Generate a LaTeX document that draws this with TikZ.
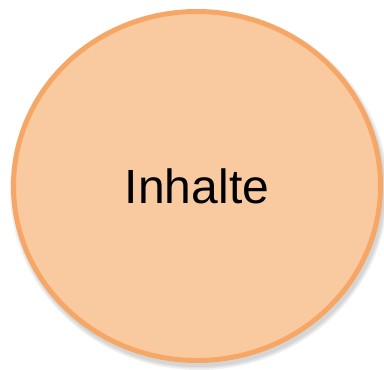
\documentclass[tikz,border=0pt]{standalone}
\usepackage{fontspec}
\setmainfont{Liberation Sans}
\definecolor{fillor}{HTML}{F9CA9F}
\definecolor{lineor}{HTML}{F6A766}
\tikzset{
  bubble/.style={ellipse, draw=lineor, line width=5pt, fill=fillor,
    minimum width=367pt, minimum height=349pt, inner sep=0pt,
    font=\fontsize{48}{56}\selectfont},
  shade1/.style={fill=black, opacity=0.06}
}
\usetikzlibrary{shapes.geometric}
\begin{document}
\begin{tikzpicture}[x=1pt,y=1pt]
\useasboundingbox (0,0) rectangle (384,370);
\foreach \d in {0,1.5,3}{
  \fill[shade1] (199,180) ellipse ({186+\d} and {177+\d});
}
\node[bubble] (c) at (197,184) {Inhalte};
\end{tikzpicture}
\end{document}
